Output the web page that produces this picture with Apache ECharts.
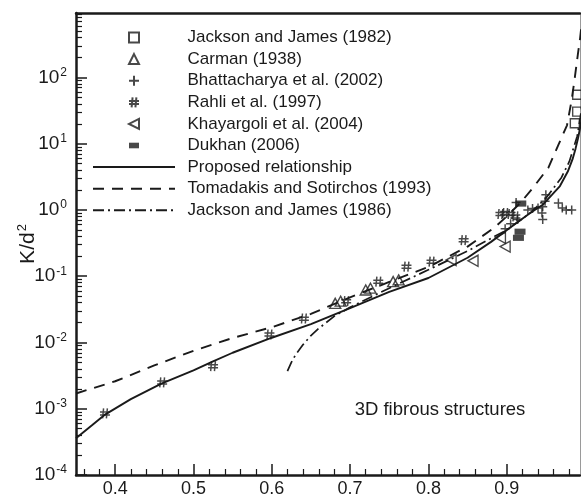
<!DOCTYPE html>
<html><head><meta charset="utf-8">
<script src="https://cdn.jsdelivr.net/npm/echarts@6/dist/echarts.min.js"></script>
<style>html,body{margin:0;padding:0;background:#fff}#c{width:581px;height:498px}</style>
</head><body><div id="c"></div>
<script>
// ---- tick values ----
const xTicks = [0.4, 0.5, 0.6, 0.7, 0.8, 0.9];
const xMinorTicks = [0.36, 0.38, 0.42, 0.44, 0.46, 0.48, 0.52, 0.54, 0.56, 0.58, 0.62, 0.64, 0.66, 0.68,
  0.72, 0.74, 0.76, 0.78, 0.82, 0.84, 0.86, 0.88, 0.92, 0.94, 0.96, 0.98];
const yTicks = [1e-4, 1e-3, 1e-2, 1e-1, 1, 10, 100];
const yMinorTicks = [2e-4,3e-4,4e-4,5e-4,6e-4,7e-4,8e-4,9e-4,
  2e-3,3e-3,4e-3,5e-3,6e-3,7e-3,8e-3,9e-3,
  0.02,0.03,0.04,0.05,0.06,0.07,0.08,0.09,
  0.2,0.3,0.4,0.5,0.6,0.7,0.8,0.9,
  2,3,4,5,6,7,8,9,
  20,30,40,50,60,70,80,90,
  200,300,400,500,600,700,800,900];

// ---- data (porosity, K/d^2) ----
const jackson1982 = [[0.987, 20.4], [0.990, 30.5], [0.990, 55]];
const carman = [[0.681, 0.039], [0.688, 0.042], [0.720, 0.062], [0.726, 0.066], [0.755, 0.083], [0.762, 0.088]];
const bhattacharya = [[0.898, 0.52], [0.905, 0.62], [0.914, 0.72], [0.912, 1.3], [0.927, 1.0], [0.933, 1.05],
  [0.940, 1.07], [0.946, 1.12], [0.949, 1.35], [0.950, 1.7], [0.945, 0.9], [0.946, 0.72],
  [0.966, 1.27], [0.971, 1.07], [0.976, 1.0], [0.983, 1.0]];
const rahli = [[0.387, 8.5e-4], [0.460, 2.5e-3], [0.525, 4.4e-3], [0.597, 0.0132], [0.641, 0.023],
  [0.695, 0.042], [0.736, 0.083], [0.772, 0.14], [0.804, 0.166], [0.845, 0.35],
  [0.892, 0.87], [0.898, 0.9], [0.905, 0.87], [0.911, 0.8]];
const khayargoli = [[0.829, 0.176], [0.857, 0.171], [0.892, 0.38], [0.898, 0.28]];
const dukhan = [[0.917, 0.47], [0.915, 0.38], [0.918, 1.25]];
const proposed = [[0.35, 3.6e-4], [0.37, 5.6e-4], [0.386, 8.0e-4], [0.42, 1.4e-3], [0.459, 2.4e-3],
  [0.5, 3.8e-3], [0.525, 5.2e-3], [0.55, 7.0e-3], [0.6, 0.0118], [0.65, 0.019], [0.7, 0.033],
  [0.75, 0.058], [0.8, 0.094], [0.85, 0.19], [0.88, 0.33], [0.905, 0.55], [0.93, 0.9],
  [0.946, 1.2], [0.958, 1.7], [0.968, 2.3], [0.978, 3.8], [0.984, 5.8], [0.988, 8.5],
  [0.991, 12], [0.9936, 17], [0.996, 25]];
const tomadakis = [[0.35, 1.7e-3], [0.4, 2.6e-3], [0.45, 4.5e-3], [0.5, 7.5e-3], [0.55, 0.0117],
  [0.6, 0.017], [0.65, 0.027], [0.7, 0.048], [0.75, 0.082], [0.8, 0.138], [0.85, 0.28],
  [0.885, 0.55], [0.9, 0.8], [0.918, 1.3], [0.934, 2.2], [0.953, 4.3], [0.966, 9.6],
  [0.977, 19], [0.983, 46], [0.987, 100], [0.991, 230], [0.9936, 380], [0.996, 700]];
const jackson1986 = [[0.62, 0.0037], [0.625, 0.005], [0.63, 0.0064], [0.64, 0.0093], [0.65, 0.0127],
  [0.66, 0.0163], [0.68, 0.025], [0.7, 0.034], [0.75, 0.066], [0.8, 0.125], [0.85, 0.24],
  [0.9, 0.5], [0.93, 0.9], [0.95, 1.5], [0.97, 3.1], [0.98, 5.4], [0.99, 13], [0.9936, 23], [0.996, 38]];

const names = ['Jackson and James (1982)', 'Carman (1938)', 'Bhattacharya et al. (2002)', 'Rahli et al. (1997)',
  'Khayargoli et al. (2004)', 'Dukhan (2006)', 'Proposed relationship', 'Tomadakis and Sotirchos (1993)',
  'Jackson and James (1986)'];

const FONT = '"Liberation Sans", Arial, Helvetica, sans-serif';
const INK = '#1a1a1a';
const X_MIN = 0.35, X_MAX = 0.9936, Y_MIN = 1e-4, Y_MAX = 940;

const hollow = { color: 'none', borderColor: INK, borderWidth: 1.4 };
const stroke = { color: 'none', borderColor: INK, borderWidth: 1.5 };
const clear = { color: 'rgba(0,0,0,0)', borderColor: 'rgba(0,0,0,0)', borderWidth: 0 };

function sc(name, data, symbol, size, style) {
  return { name, type: 'scatter', data, symbol, symbolSize: size, itemStyle: style,
    xAxisIndex: 0, yAxisIndex: 0, z: 5, emphasis: { disabled: true } };
}
function ln(name, data, type, width) {
  return { name, type: 'line', data, symbol: 'none', showSymbol: false, smooth: false,
    lineStyle: { color: INK, width, type }, itemStyle: clear,
    xAxisIndex: 0, yAxisIndex: 0, z: 3, clip: true, emphasis: { disabled: true } };
}

const SQUARE = 'path://M0,0L10,0L10,10L0,10Z';
const TRI = 'path://M5,0L10,10L0,10Z';
const PLUS = 'path://M0,5L10,5M5,0L5,10';
const HASH = 'path://M3.6,0L2.6,10M7.4,0L6.4,10M0,3.6L10,3.6M0,6.6L10,6.6';
const LTRI = 'path://M10,0L10,10L0,5Z';
const BAR = 'path://M0,2.2L10,2.2L10,7.8L0,7.8Z M0,0L0,0 M0,10L0,10';

const chart = echarts.init(document.getElementById('c'), null, { renderer: 'canvas' });
chart.setOption({
  animation: false,
  backgroundColor: '#fff',
  textStyle: { fontFamily: FONT },
  grid: { left: 76, right: 1, top: 13, bottom: 23, containLabel: false, outerBoundsMode: 'none' },
  legend: {
    orient: 'vertical', left: 92, top: 29, padding: 0,
    itemWidth: 82, itemHeight: 10, itemGap: 4.6,
    selectedMode: false,
    textStyle: { fontSize: 17, color: INK, fontFamily: FONT, lineHeight: 10, padding: [0, 0, 0, 7.5] },
    data: names
  },
  xAxis: [
    { type: 'value', min: X_MIN, max: X_MAX, position: 'bottom',
      axisLine: { show: true, onZero: false, lineStyle: { color: INK, width: 2.5 } },
      axisTick: { show: true, inside: true, length: 11, customValues: xTicks, lineStyle: { color: INK, width: 1.5 } },
      axisLabel: { show: true, customValues: xTicks, margin: 5, fontSize: 18, color: INK, fontFamily: FONT,
        formatter: v => v.toFixed(1) },
      splitLine: { show: false } },
    { type: 'value', min: X_MIN, max: X_MAX, position: 'bottom',
      axisLine: { show: false },
      axisTick: { show: true, inside: true, length: 6, customValues: xMinorTicks, lineStyle: { color: INK, width: 1.2 } },
      axisLabel: { show: false }, splitLine: { show: false } },
    { type: 'value', min: X_MIN, max: X_MAX, position: 'top',
      axisLine: { show: true, onZero: false, lineStyle: { color: INK, width: 2.5 } },
      axisTick: { show: false }, axisLabel: { show: false }, splitLine: { show: false } }
  ],
  yAxis: [
    { type: 'log', logBase: 10, min: Y_MIN, max: Y_MAX, position: 'left',
      name: '{a|K/d}{b|2}', nameLocation: 'middle', nameGap: 36, nameRotate: 90, nameMoveOverlap: false,
      nameTextStyle: { color: INK, fontFamily: FONT,
        rich: { a: { fontSize: 21, color: INK, fontFamily: FONT },
                b: { fontSize: 13, color: INK, fontFamily: FONT, padding: [0, 0, 11, 1] } } },
      axisLine: { show: true, onZero: false, lineStyle: { color: INK, width: 2.5 } },
      axisTick: { show: true, inside: true, length: 11, customValues: yTicks, lineStyle: { color: INK, width: 1.5 } },
      axisLabel: { show: true, customValues: yTicks, margin: 9, color: INK, fontFamily: FONT,
        formatter: v => '{a|10}{b|' + Math.round(Math.log10(v)) + '}',
        rich: { a: { fontSize: 19, color: INK, fontFamily: FONT },
                b: { fontSize: 12, color: INK, fontFamily: FONT, padding: [0, 0, 10, 1] } } },
      splitLine: { show: false } },
    { type: 'log', logBase: 10, min: Y_MIN, max: Y_MAX, position: 'left',
      axisLine: { show: false },
      axisTick: { show: true, inside: true, length: 6, customValues: yMinorTicks, lineStyle: { color: INK, width: 1.2 } },
      axisLabel: { show: false }, splitLine: { show: false } },
    { type: 'log', logBase: 10, min: Y_MIN, max: Y_MAX, position: 'right',
      axisLine: { show: true, onZero: false, lineStyle: { color: '#9a9a9a', width: 1 } },
      axisTick: { show: false }, axisLabel: { show: false }, splitLine: { show: false } }
  ],
  graphic: [
    { type: 'text', x: 440, y: 410, z: 10,
      style: { text: '3D fibrous structures', fontSize: 18.5, fontFamily: FONT, fill: INK,
        align: 'center', verticalAlign: 'middle' } }
  ],
  series: [
    ln(names[6], proposed, 'solid', 1.9),
    ln(names[7], tomadakis, [11, 8], 1.9),
    ln(names[8], jackson1986, [11, 4, 2, 4], 1.7),
    sc(names[0], jackson1982, SQUARE, 9, hollow),
    sc(names[1], carman, TRI, [11, 10], hollow),
    sc(names[2], bhattacharya, PLUS, 9, stroke),
    sc(names[3], rahli, HASH, 10, stroke),
    sc(names[4], khayargoli, LTRI, [10, 11], hollow),
    sc(names[5], dukhan, BAR, [11, 11], { color: INK, borderWidth: 0 })
  ]
});
</script>
</body></html>
